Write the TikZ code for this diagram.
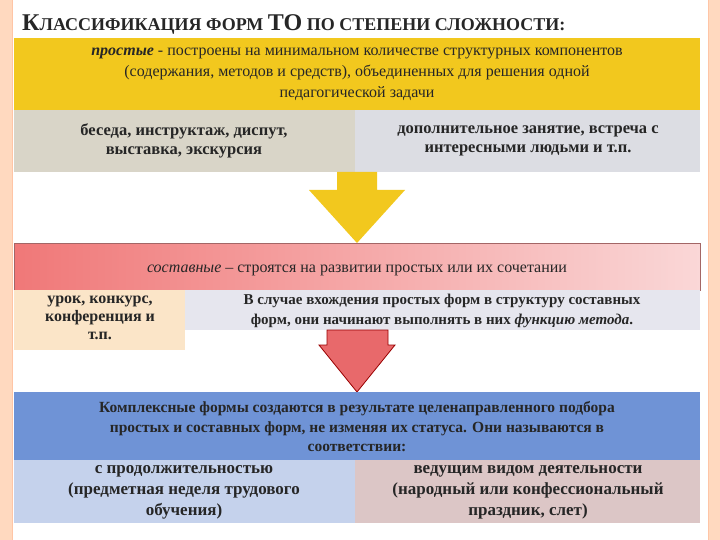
\documentclass[tikz,border=0pt]{standalone}
\usepackage{fontspec}
\setmainfont{Liberation Serif}
\begin{document}
\begin{tikzpicture}[x=1pt,y=-1pt,
  txt/.style={align=center,font=\bfseries\fontsize{16.5}{19}\selectfont,text=black!85,inner sep=0pt},
  box/.style={draw=none}]
\useasboundingbox (0,0) rectangle (720,540);
\fill[red!20!orange!25] (0,0) rectangle (720,540);
\fill[white] (12,0) rectangle (708,540);
\draw[red!30!orange!35,line width=1pt] (12,0) -- (12,540) (708,0) -- (708,540);
\node[anchor=west,font=\bfseries\fontsize{18}{20}\selectfont,text=black!85,inner sep=0pt] (title) at (22,24)
 {{\fontsize{24}{26}\selectfont К}ЛАССИФИКАЦИЯ ФОРМ {\fontsize{24}{26}\selectfont ТО} ПО СТЕПЕНИ СЛОЖНОСТИ:};
% yellow
\fill[fill={rgb,255:red,242;green,200;blue,30}] (14,38) rectangle (700,110);
\node[align=center,text=black!85,inner sep=0pt,font=\fontsize{16}{21}\selectfont] (simple) at (357,74)
 {\textbf{\textit{простые}} - построены на минимальном количестве структурных компонентов\\(содержания, методов и средств), объединенных для решения одной\\педагогической задачи};
\fill[fill={rgb,255:red,217;green,213;blue,200}] (14,110) rectangle (355,172);
\fill[fill={rgb,255:red,220;green,221;blue,227}] (355,110) rectangle (700,172);
\node[txt] (s1) at (184,141) {беседа, инструктаж, диспут,\\выставка, экскурсия};
\node[txt] (s2) at (528,141) {дополнительное занятие, встреча с\\интересными людьми и т.п.};
% yellow arrow
\fill[fill={rgb,255:red,242;green,200;blue,30}] (337,172) -- (377,172) -- (377,190) -- (405,190) -- (357,243) -- (309,190) -- (337,190) -- cycle;
% red box
\shade[left color={rgb,255:red,240;green,120;blue,120},right color={rgb,255:red,250;green,215;blue,215}] (14,243) rectangle (700,290);
\draw[red!40!black!60,line width=0.6pt] (14,243) rectangle (700,290);
\node[font=\fontsize{16}{19}\selectfont,text=black!85,inner sep=0pt] (comp) at (357,270)
 {\textit{составные} -- строятся на развитии простых или их сочетании};
\fill[fill={rgb,255:red,251;green,229;blue,200}] (14,290) rectangle (185,350);
\fill[fill={rgb,255:red,230;green,230;blue,238}] (185,290) rectangle (700,330);
\node[txt,font=\bfseries\fontsize{16}{18}\selectfont] (c1) at (100,318) {урок, конкурс,\\конференция и\\т.п.};
\node[txt,font=\bfseries\fontsize{15}{20}\selectfont] (c2) at (442,311) {В случае вхождения простых форм в структуру составных\\форм, они начинают выполнять в них \textit{функцию метода}.};
% red arrow
\filldraw[fill={rgb,255:red,232;green,105;blue,107},draw=red!60!black,line width=0.8pt] (327,330) -- (388,330) -- (388,345) -- (395,345) -- (357,392) -- (319,345) -- (327,345) -- cycle;
% blue
\fill[fill={rgb,255:red,111;green,147;blue,214}] (14,392) rectangle (700,460);
\node[txt,font=\bfseries\fontsize{15.5}{19.5}\selectfont] (cx) at (357,427)
 {Комплексные формы создаются в результате целенаправленного подбора\\простых и составных форм, не изменяя их статуса. Они называются в\\соответствии:};
\fill[fill={rgb,255:red,197;green,210;blue,236}] (14,460) rectangle (355,523);
\fill[fill={rgb,255:red,220;green,198;blue,198}] (355,460) rectangle (700,523);
\node[txt,font=\bfseries\fontsize{17}{21}\selectfont] (k1) at (184,492) {с продолжительностью\\(предметная неделя трудового\\обучения)};
\node[txt,font=\bfseries\fontsize{17}{21}\selectfont] (k2) at (528,492) {ведущим видом деятельности\\(народный или конфессиональный\\праздник, слет)};
\end{tikzpicture}
\end{document}
